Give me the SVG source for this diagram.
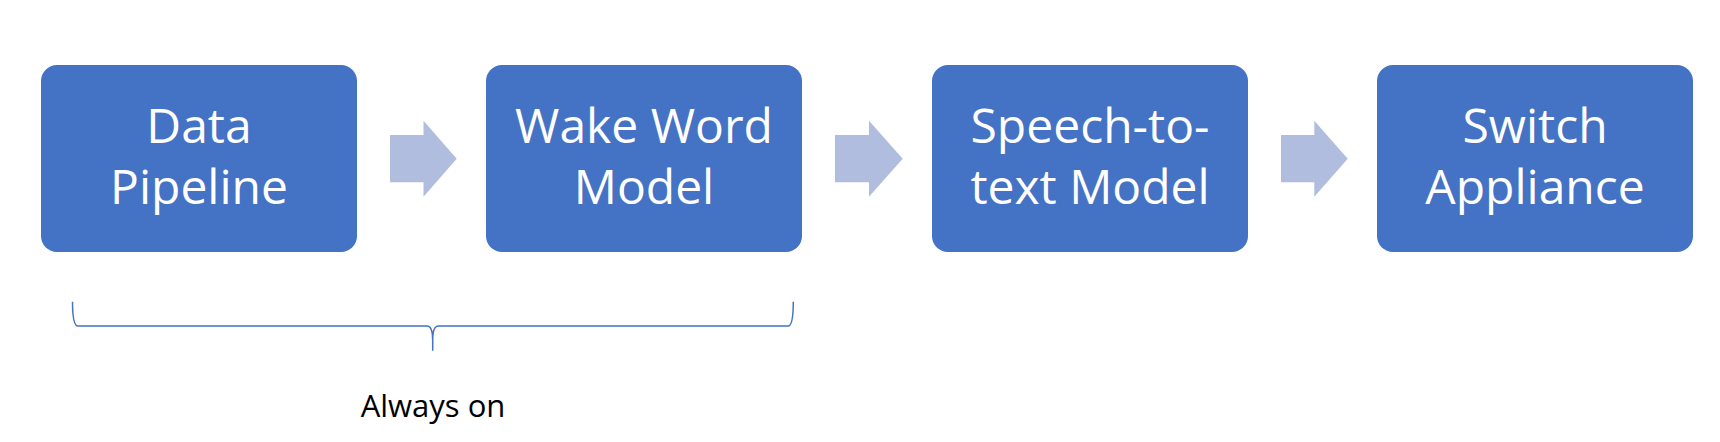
<svg xmlns="http://www.w3.org/2000/svg" width="1720" height="442" viewBox="0 0 1720 442">
<style>
.box{fill:#4472C4;}
.lbl{font-family:"Open Sans","Liberation Sans",sans-serif;font-size:48px;fill:#FFFFFF;text-anchor:middle;}
.arr{fill:#B0BDDE;}
.brace{fill:none;stroke:#4472C4;stroke-width:1.5;}
.note{font-family:"Open Sans","Liberation Sans",sans-serif;font-size:31px;fill:#000000;text-anchor:middle;}
</style>
<rect width="1720" height="442" fill="#FFFFFF"/>
<g id="connectors">
<polygon class="arr" points="390,135 423.5,135 423.5,120.7 456.7,158.7 423.5,196.7 423.5,182.3 390,182.3"/>
<polygon class="arr" points="835,135 869,135 869,120.7 902.7,158.7 869,196.7 869,182.3 835,182.3"/>
<polygon class="arr" points="1281,135 1314.3,135 1314.3,120.7 1347.7,158.7 1314.3,196.7 1314.3,182.3 1281,182.3"/>
</g>
<g id="node-data-pipeline">
<rect class="box" x="41" y="65" width="316" height="187" rx="16" ry="16"/>
<text class="lbl" x="199" y="143">Data</text>
<text class="lbl" x="199" y="204">Pipeline</text>
</g>
<g id="node-wake-word">
<rect class="box" x="486" y="65" width="316" height="187" rx="16" ry="16"/>
<text class="lbl" x="644" y="143">Wake Word</text>
<text class="lbl" x="644" y="204">Model</text>
</g>
<g id="node-speech-to-text">
<rect class="box" x="932" y="65" width="316" height="187" rx="16" ry="16"/>
<text class="lbl" x="1090" y="143">Speech-to-</text>
<text class="lbl" x="1090" y="204">text Model</text>
</g>
<g id="node-switch-appliance">
<rect class="box" x="1377" y="65" width="316" height="187" rx="16" ry="16"/>
<text class="lbl" x="1535" y="143">Switch</text>
<text class="lbl" x="1535" y="204">Appliance</text>
</g>
<g id="brace-always-on">
<path class="brace" d="M72.5,301.7 Q72.5,326 78,326 L427,326 Q432.7,326 432.7,340 L432.7,350.7 M432.7,340 Q432.7,326 438.5,326 L788,326 Q793.3,326 793.3,301.7"/>
<text class="note" x="433" y="416.7">Always on</text>
</g>
</svg>
